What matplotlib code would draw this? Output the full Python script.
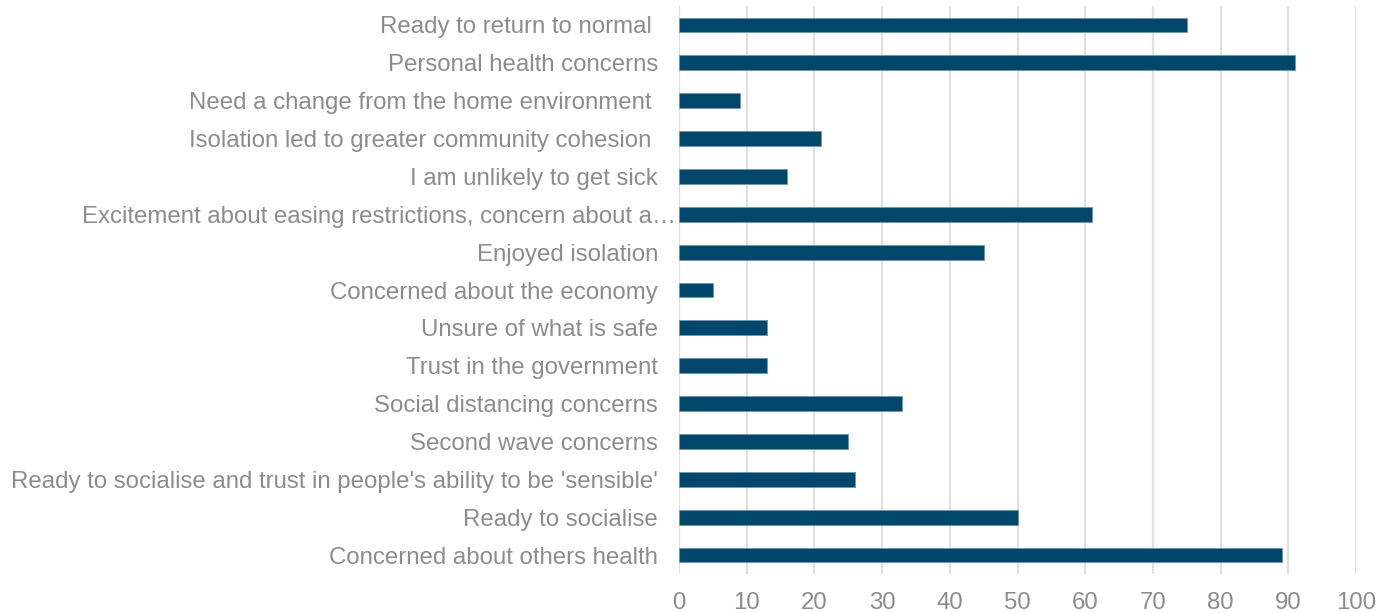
import matplotlib.pyplot as plt

plt.rcParams['font.family'] = ['Liberation Sans', 'DejaVu Sans']

categories = [
    "Concerned about others health",
    "Ready to socialise",
    "Ready to socialise and trust in people's ability to be 'sensible'",
    "Second wave concerns",
    "Social distancing concerns",
    "Trust in the government",
    "Unsure of what is safe",
    "Concerned about the economy",
    "Enjoyed isolation",
    "Excitement about easing restrictions, concern about a\u2026",
    "I am unlikely to get sick",
    "Isolation led to greater community cohesion ",
    "Need a change from the home environment ",
    "Personal health concerns",
    "Ready to return to normal ",
]
values = [89, 50, 26, 25, 33, 13, 13, 5, 45, 61, 16, 21, 9, 91, 75]
xticks = [0, 10, 20, 30, 40, 50, 60, 70, 80, 90, 100]

bar_color = "#00476b"
text_color = "#8c8c8c"
grid_color = "#e0e0e0"

fig = plt.figure(figsize=(13.78, 6.13), dpi=100)
ax = fig.add_axes([679 / 1378, 1 - 574 / 613, (1356 - 679) / 1378, (574 - 6) / 613])

ypos = list(range(len(categories)))
ax.barh(ypos, values, height=0.39, color=bar_color, edgecolor="#6f97ae", linewidth=0.6, zorder=3)

ax.set_xlim(0, 100)
ax.set_ylim(-0.5, len(categories) - 0.5)
ax.set_xticks(xticks)
ax.set_yticks(ypos)
# the truncated label sits right against the axis, so draw it separately
labels = [c if i != 9 else "" for i, c in enumerate(categories)]
ax.set_yticklabels(labels)
ax.annotate(categories[9], xy=(0, 9), xytext=(-2, 0), textcoords="offset points",
            ha="right", va="center_baseline", fontsize=17.3, color=text_color)
ax.tick_params(axis="y", length=0, pad=15, labelsize=17.3, labelcolor=text_color)
ax.tick_params(axis="x", length=0, pad=13, labelsize=17.3, labelcolor=text_color)
ax.xaxis.grid(True, color=grid_color, linewidth=1.6, zorder=0)
for s in ax.spines.values():
    s.set_visible(False)

fig.savefig("out.png", dpi=100)
